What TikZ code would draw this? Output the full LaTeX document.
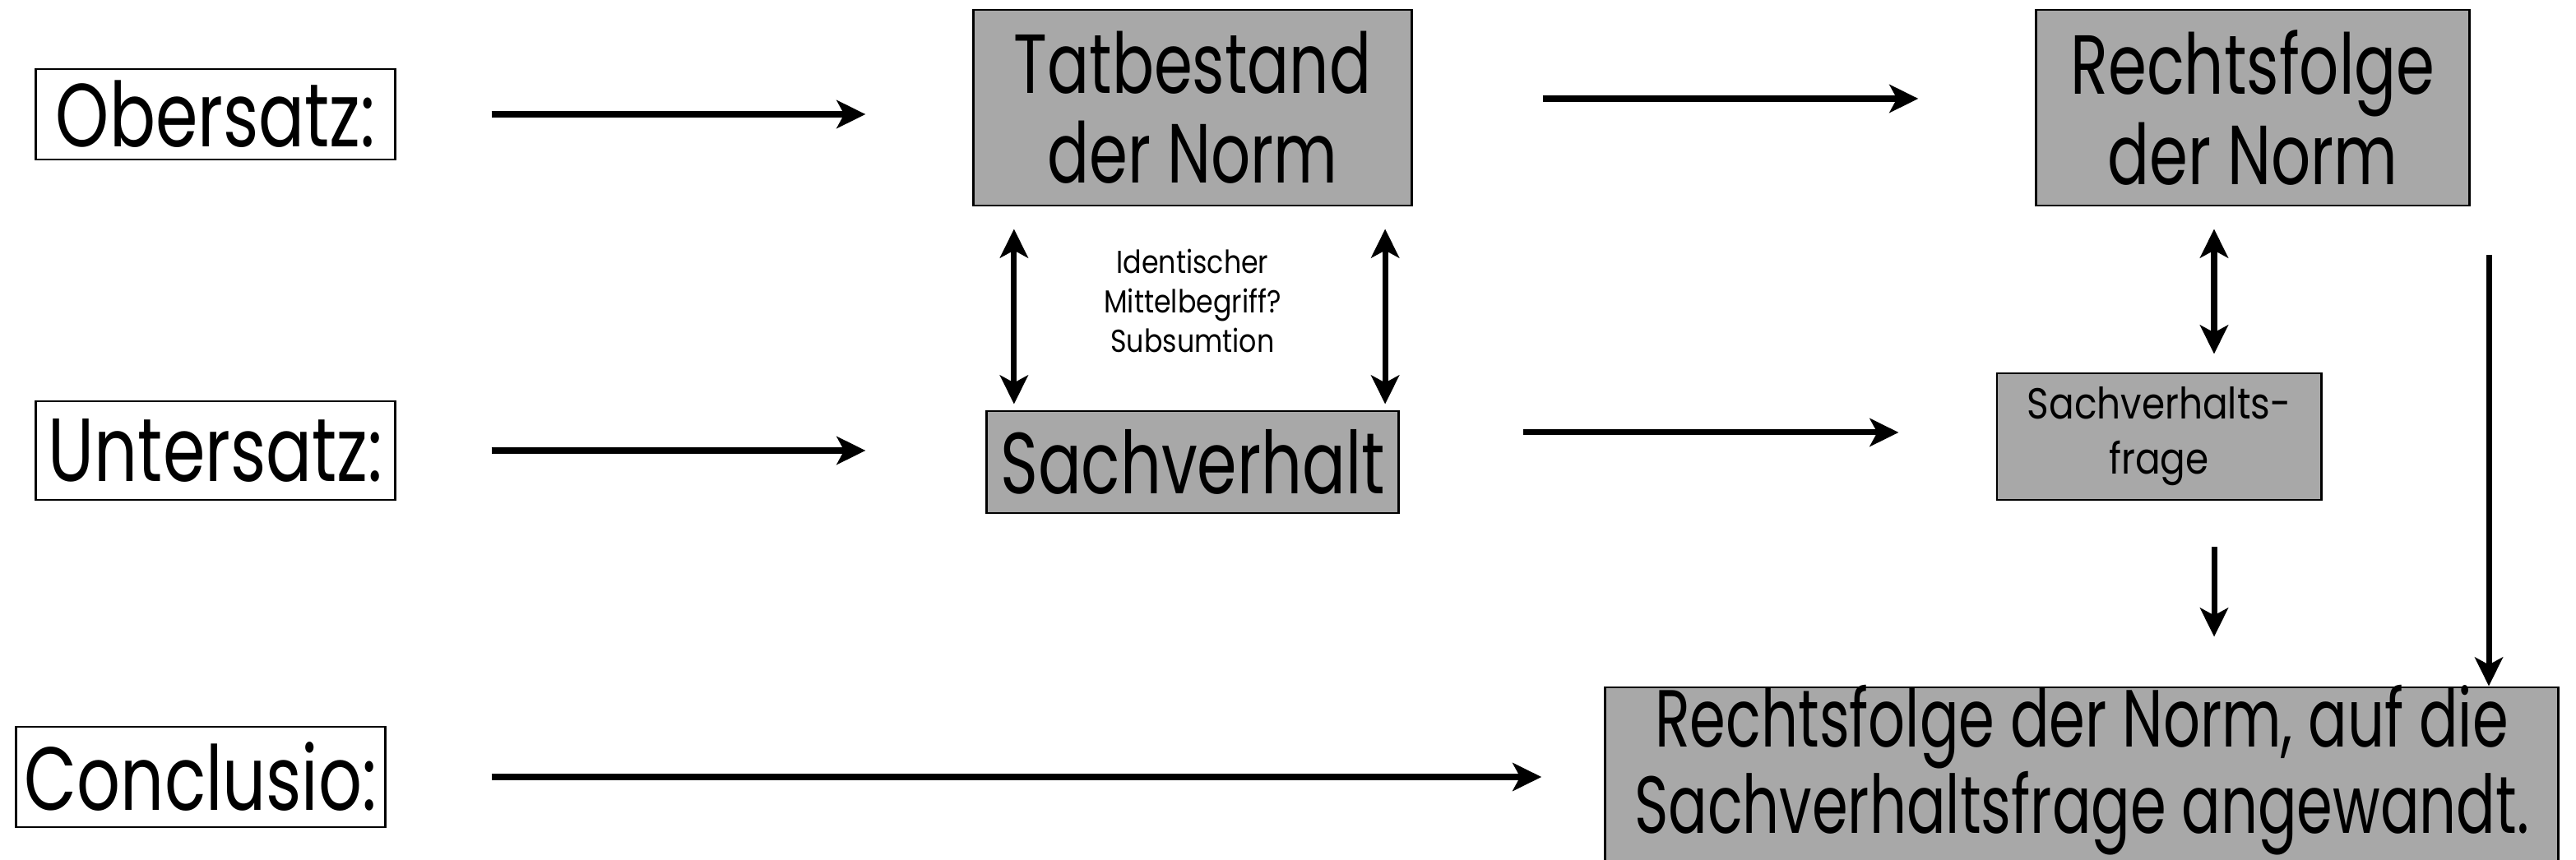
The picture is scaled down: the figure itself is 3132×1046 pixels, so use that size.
\documentclass[tikz,border=0pt]{standalone}
\usepackage{fontspec}
\setmainfont{Poppins}[FakeStretch=0.86]
\newfontfamily\lblfont{Poppins}[FakeStretch=0.76]
\newfontfamily\boxfont{Poppins}[FakeStretch=0.74]
\newfontfamily\finfont{Poppins}[FakeStretch=0.715]
\usetikzlibrary{arrows.meta}
\definecolor{boxgray}{RGB}{168,168,168}
\tikzset{
  lbl/.style={draw, line width=0.8pt, fill=white, inner sep=0pt, align=center,
    font=\lblfont\fontsize{31pt}{34pt}\selectfont},
  gbox/.style={draw, line width=0.8pt, fill=boxgray, inner sep=0pt, align=center,
    font=\boxfont\fontsize{29pt}{31pt}\selectfont},
  tip/.tip={Stealth[length=0.35cm,width=0.34cm,inset=0.09cm]},
  arr/.style={-tip, line width=2pt},
  darr/.style={tip-tip, line width=2pt}
}
\begin{document}
\begin{tikzpicture}[x=0.01cm,y=-0.01cm]
\useasboundingbox[fill=white] (0,0) rectangle (3132,1046);
% labels
\node[lbl, minimum width=4.36cm, minimum height=1.10cm] (ober) at (262,139) {Obersatz:};
\node[lbl, minimum width=4.36cm, minimum height=1.20cm] (unter) at (262,548) {Untersatz:};
\node[lbl, minimum width=4.48cm, minimum height=1.22cm] (concl) at (244,945) {Conclusio:};
% gray boxes
\node[gbox, minimum width=5.32cm, minimum height=2.38cm] (tat) at (1450,131) {Tatbestand\\der Norm};
\node[gbox, minimum width=5.26cm, minimum height=2.38cm] (rf) at (2739,131) {Rechtsfolge\\der Norm};
\node[gbox, minimum width=5.00cm, minimum height=1.24cm, font=\boxfont\fontsize{30pt}{32pt}\selectfont] (sach) at (1450,562) {Sachverhalt};
\node[gbox, minimum width=3.94cm, minimum height=1.54cm, font=\fontsize{15pt}{19pt}\selectfont] (svf) at (2625,531) {Sachverhalts-\\frage};
\node[gbox, minimum width=11.58cm, minimum height=2.40cm] (final) at (2531,956) {};
\node[align=center, inner sep=0pt, font=\finfont\fontsize{28pt}{27pt}\selectfont] (fintext) at (2531,937) {Rechtsfolge der Norm, auf die\\Sachverhaltsfrage angewandt.};
% middle text
\node[align=center, inner sep=0pt, font=\fontsize{11pt}{13.6pt}\selectfont] (mid) at (1450,366) {Identischer\\Mittelbegriff?\\Subsumtion};
% arrows
\draw[arr, shorten <=1.16cm, shorten >=1.30cm] (ober.east) -- (ober.east -| tat.west);
\draw[arr, shorten <=1.58cm, shorten >=1.42cm] ([yshift=0.11cm]tat.east) -- ([yshift=0.11cm]tat.east -| rf.west);
\draw[arr, shorten <=1.16cm, shorten >=1.46cm] (unter.east) -- (unter.east -| sach.west);
\draw[arr, shorten <=1.50cm, shorten >=1.18cm] ([yshift=0.36cm]sach.east) -- ([yshift=0.36cm]sach.east -| svf.west);
\draw[arr, shorten <=1.28cm, shorten >=0.76cm] (concl.east) -- (concl.east -| final.west);
\draw[darr, shorten <=0.27cm, shorten >=0.07cm] ([xshift=-2.17cm]tat.south) -- ([xshift=-2.17cm]tat.south |- sach.north);
\draw[darr, shorten <=0.27cm, shorten >=0.07cm] ([xshift=2.34cm]tat.south) -- ([xshift=2.34cm]tat.south |- sach.north);
\draw[darr, shorten <=0.27cm, shorten >=0.22cm] ([xshift=-0.47cm]rf.south) -- ([xshift=-0.47cm]rf.south |- svf.north);
\draw[arr, shorten <=0.56cm, shorten >=0.60cm] ([xshift=0.67cm]svf.south) -- ([xshift=0.67cm]svf.south |- final.north);
\coordinate (rstart) at (3026,310);
\draw[arr] (rstart) -- (rstart |- final.north);
\end{tikzpicture}
\end{document}
